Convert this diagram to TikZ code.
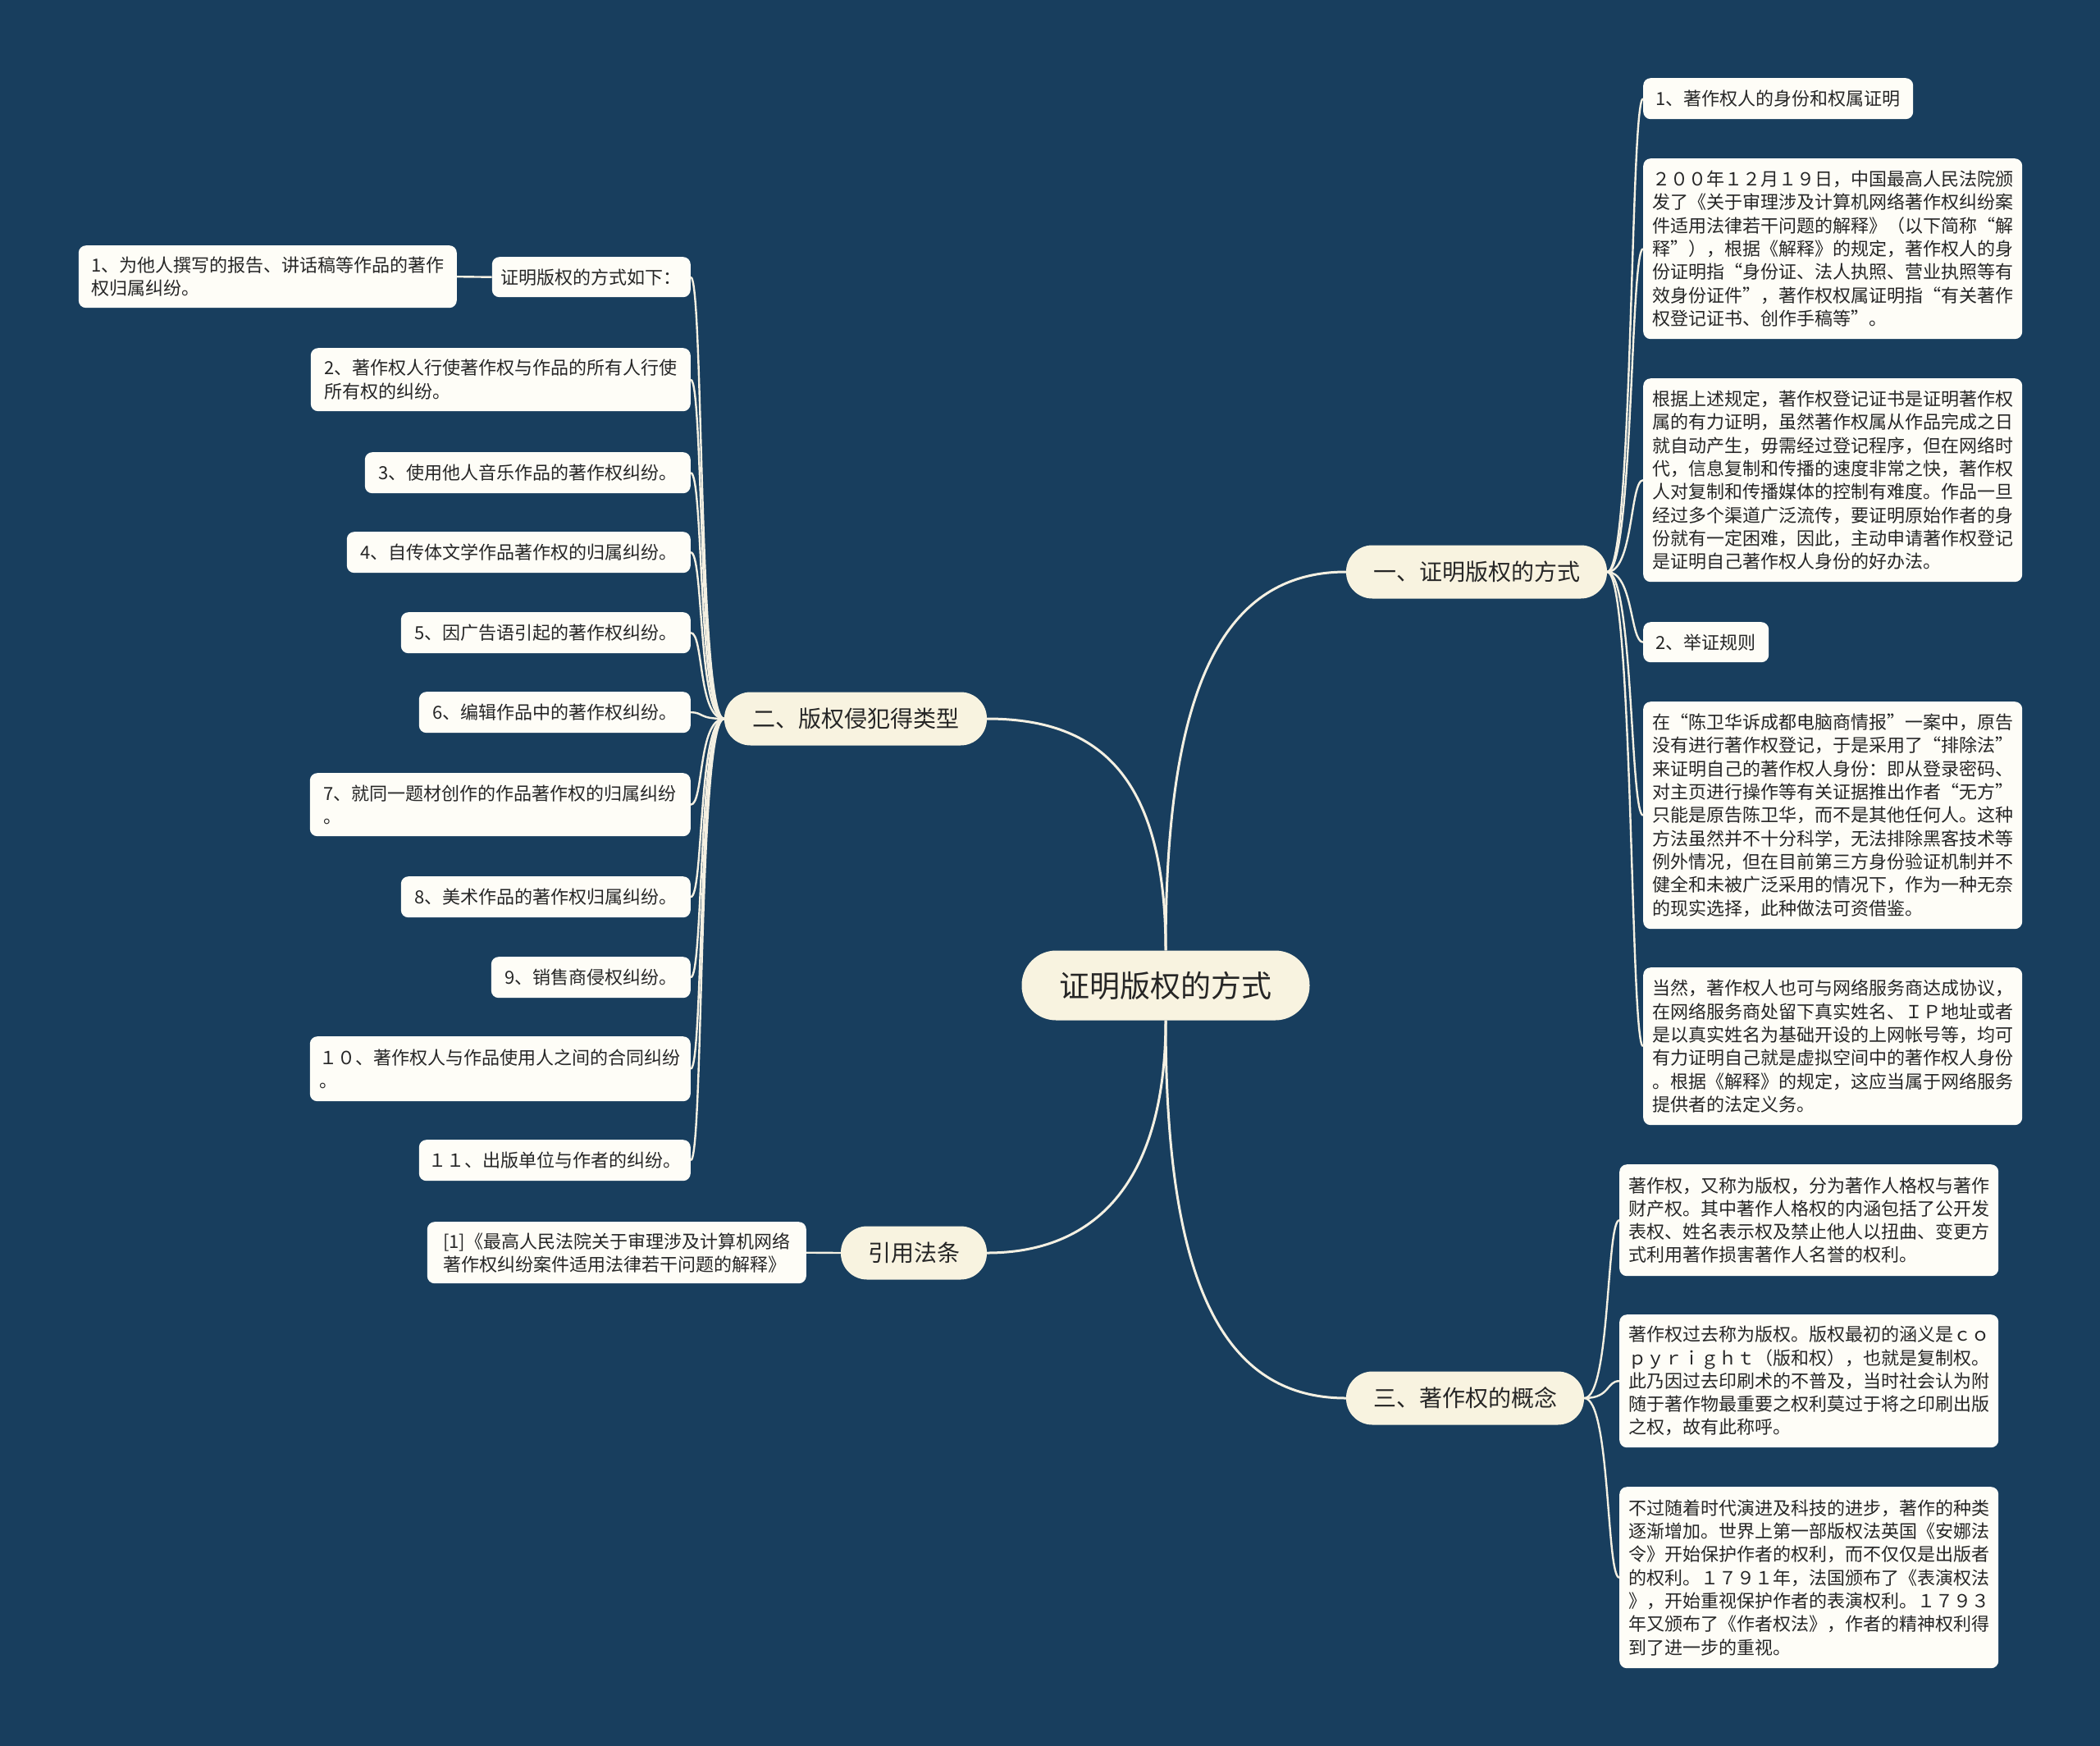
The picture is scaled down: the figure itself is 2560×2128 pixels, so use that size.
\documentclass[tikz,border=0pt]{standalone}
\usepackage{fontspec}
\setmainfont{Noto Sans CJK SC}
\definecolor{bg}{HTML}{183E5E}
\definecolor{leafc}{HTML}{FEFDF7}
\definecolor{topc}{HTML}{F8F3E0}
\definecolor{linec}{HTML}{F4F0E2}
\definecolor{txt}{HTML}{262626}
\tikzset{
 leaf/.style={fill=leafc, rounded corners=9pt, inner sep=0pt, align=left, text=txt,
   font=\fontsize{22}{28.3}\selectfont, anchor=north west},
 leafr/.style={leaf, anchor=north east},
 topic/.style={fill=topc, rounded corners=32pt, inner sep=0pt, text=txt,
   font=\fontsize{28}{32}\selectfont, minimum height=65pt},
 root/.style={fill=topc, rounded corners=42pt, inner sep=0pt, text=txt,
   font=\fontsize{37}{42}\selectfont, minimum width=351pt, minimum height=85pt},
 link/.style={draw=linec, line width=2.4pt},
 mainlink/.style={draw=linec, line width=3pt},
}
\begin{document}
\begin{tikzpicture}[x=1pt,y=-1pt]
\fill[bg] (0,0) rectangle (2560,2128);
\useasboundingbox (0,0) rectangle (2560,2128);

% root and topics
\node[root] (c) at (1421,1201) {证明版权的方式};
\node[topic, minimum width=318pt] (b1) at (1800,697) {一、证明版权的方式};
\node[topic, minimum width=320pt] (b2) at (1043,876) {二、版权侵犯得类型};
\node[topic, minimum width=178pt] (b4) at (1114,1527) {引用法条};
\node[topic, minimum width=290pt] (b3) at (1786,1704) {三、著作权的概念};

% branch 1 leaves
\node[leaf, minimum width=329pt, minimum height=50pt] (L1) at (2003,95) {1、著作权人的身份和权属证明};
\node[leaf, minimum width=462pt, minimum height=220pt] (L2) at (2003,193) {２００年１２月１９日，中国最高人民法院颁\\发了《关于审理涉及计算机网络著作权纠纷案\\件适用法律若干问题的解释》（以下简称“解\\释”），根据《解释》的规定，著作权人的身\\份证明指“身份证、法人执照、营业执照等有\\效身份证件”，著作权权属证明指“有关著作\\权登记证书、创作手稿等”。};
\node[leaf, minimum width=462pt, minimum height=248pt] (L3) at (2003,461) {根据上述规定，著作权登记证书是证明著作权\\属的有力证明，虽然著作权属从作品完成之日\\就自动产生，毋需经过登记程序，但在网络时\\代，信息复制和传播的速度非常之快，著作权\\人对复制和传播媒体的控制有难度。作品一旦\\经过多个渠道广泛流传，要证明原始作者的身\\份就有一定困难，因此，主动申请著作权登记\\是证明自己著作权人身份的好办法。};
\node[leaf, minimum width=153pt, minimum height=49pt] (L4) at (2003,758) {2、举证规则};
\node[leaf, minimum width=462pt, minimum height=277pt] (L5) at (2003,855) {在“陈卫华诉成都电脑商情报”一案中，原告\\没有进行著作权登记，于是采用了“排除法”\\来证明自己的著作权人身份：即从登录密码、\\对主页进行操作等有关证据推出作者“无方”\\只能是原告陈卫华，而不是其他任何人。这种\\方法虽然并不十分科学，无法排除黑客技术等\\例外情况，但在目前第三方身份验证机制并不\\健全和未被广泛采用的情况下，作为一种无奈\\的现实选择，此种做法可资借鉴。};
\node[leaf, minimum width=462pt, minimum height=192pt] (L6) at (2003,1179) {当然，著作权人也可与网络服务商达成协议，\\在网络服务商处留下真实姓名、ＩＰ地址或者\\是以真实姓名为基础开设的上网帐号等，均可\\有力证明自己就是虚拟空间中的著作权人身份\\。根据《解释》的规定，这应当属于网络服务\\提供者的法定义务。};

% branch 2 leaves
\node[leafr, minimum width=242pt, minimum height=49pt] (N0) at (842,313) {证明版权的方式如下：};
\node[leafr, minimum width=461pt, minimum height=76pt] (N1) at (557,299) {1、为他人撰写的报告、讲话稿等作品的著作\\权归属纠纷。};
\node[leafr, minimum width=463pt, minimum height=77pt] (N2) at (842,424) {2、著作权人行使著作权与作品的所有人行使\\所有权的纠纷。};
\node[leafr, minimum width=397pt, minimum height=50pt] (N3) at (842,551) {3、使用他人音乐作品的著作权纠纷。};
\node[leafr, minimum width=419pt, minimum height=50pt] (N4) at (842,648) {4、自传体文学作品著作权的归属纠纷。};
\node[leafr, minimum width=353pt, minimum height=50pt] (N5) at (842,746) {5、因广告语引起的著作权纠纷。};
\node[leafr, minimum width=331pt, minimum height=50pt] (N6) at (842,843) {6、编辑作品中的著作权纠纷。};
\node[leafr, minimum width=464pt, minimum height=77pt] (N7) at (842,942) {7、就同一题材创作的作品著作权的归属纠纷\\。};
\node[leafr, minimum width=353pt, minimum height=50pt] (N8) at (842,1068) {8、美术作品的著作权归属纠纷。};
\node[leafr, minimum width=243pt, minimum height=50pt] (N9) at (842,1166) {9、销售商侵权纠纷。};
\node[leafr, minimum width=464pt, minimum height=79pt] (N10) at (842,1263) {１０、著作权人与作品使用人之间的合同纠纷\\。};
\node[leafr, minimum width=331pt, minimum height=50pt] (N11) at (842,1389) {１１、出版单位与作者的纠纷。};

% reference leaf
\node[leafr, minimum width=462pt, minimum height=75pt] (R1) at (983,1489) {[1]《最高人民法院关于审理涉及计算机网络\\著作权纠纷案件适用法律若干问题的解释》};

% branch 3 leaves
\node[leaf, minimum width=462pt, minimum height=136pt] (T1) at (1974,1419) {著作权，又称为版权，分为著作人格权与著作\\财产权。其中著作人格权的内涵包括了公开发\\表权、姓名表示权及禁止他人以扭曲、变更方\\式利用著作损害著作人名誉的权利。};
\node[leaf, minimum width=462pt, minimum height=162pt] (T2) at (1974,1602) {著作权过去称为版权。版权最初的涵义是ｃｏ\\ｐｙｒｉｇｈｔ（版和权），也就是复制权。\\此乃因过去印刷术的不普及，当时社会认为附\\随于著作物最重要之权利莫过于将之印刷出版\\之权，故有此称呼。};
\node[leaf, minimum width=462pt, minimum height=221pt] (T3) at (1974,1812) {不过随着时代演进及科技的进步，著作的种类\\逐渐增加。世界上第一部版权法英国《安娜法\\令》开始保护作者的权利，而不仅仅是出版者\\的权利。１７９１年，法国颁布了《表演权法\\》，开始重视保护作者的表演权利。１７９３\\年又颁布了《作者权法》，作者的精神权利得\\到了进一步的重视。};

% main connectors
\draw[mainlink] (c.north) .. controls +(0,-300) and +(-160,0) .. (b1.west);
\draw[mainlink] (c.north) .. controls +(0,-220) and +(130,0) .. (b2.east);
\draw[mainlink] (c.south) .. controls +(0,200) and +(130,0) .. (b4.east);
\draw[mainlink] (c.south) .. controls +(0,300) and +(-160,0) .. (b3.west);

% branch 1 connectors
\foreach \n in {L1,L2,L3,L4,L5,L6}
  \draw[link] (b1.east) .. controls +(32,0) and +(-16,0) .. (\n.west);
% branch 2 connectors
\foreach \n in {N0,N2,N3,N4,N5,N6,N7,N8,N9,N10,N11}
  \draw[link] (b2.west) .. controls +(-32,0) and +(16,0) .. (\n.east);
\draw[link] (N0.west) -- (N1.east);
% reference connector
\draw[link] (b4.west) -- (R1.east);
% branch 3 connectors
\foreach \n in {T1,T2,T3}
  \draw[link] (b3.east) .. controls +(32,0) and +(-16,0) .. (\n.west);
\end{tikzpicture}
\end{document}
